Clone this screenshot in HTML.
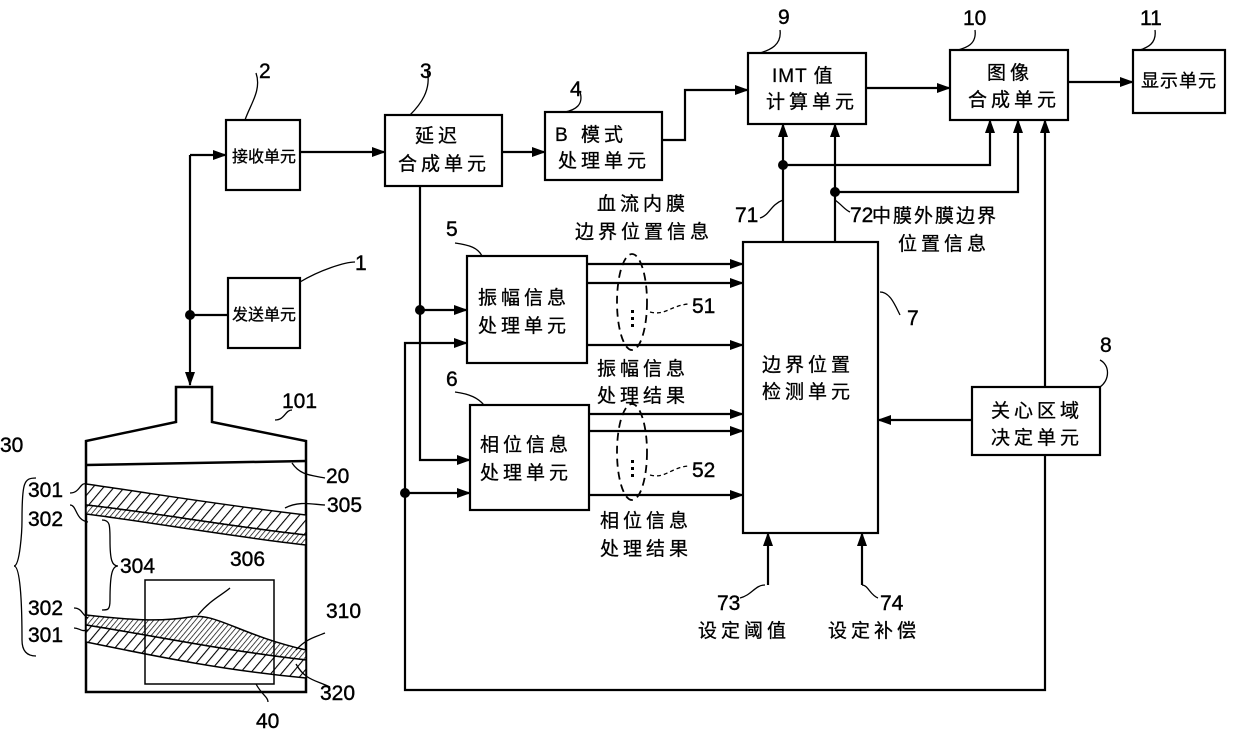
<!DOCTYPE html>
<html><head><meta charset="utf-8"><style>
body{margin:0;background:#fff}
svg{display:block}
text{font-family:"Liberation Sans","Noto Sans CJK SC",sans-serif;fill:#000}
.c text{font-size:19px;letter-spacing:4px;stroke:#000;stroke-width:0.3}
.n text{font-size:21px;stroke:#000;stroke-width:0.4}
</style></head><body>
<svg width="1240" height="734" viewBox="0 0 1240 734" xmlns="http://www.w3.org/2000/svg">
<defs>
<marker id="a" markerWidth="14" markerHeight="10" refX="13" refY="5" orient="auto" markerUnits="userSpaceOnUse"><path d="M0,0 L14,5 L0,10z" fill="#000"/></marker>
<pattern id="h" width="8" height="8" patternUnits="userSpaceOnUse" patternTransform="rotate(40)"><rect width="8" height="8" fill="#fff"/><line x1="0" y1="0" x2="0" y2="8" stroke="#000" stroke-width="2.2"/></pattern>
<pattern id="h2" width="4" height="4" patternUnits="userSpaceOnUse" patternTransform="rotate(40)"><rect width="4" height="4" fill="#fff"/><line x1="0" y1="0" x2="0" y2="4" stroke="#000" stroke-width="1.4"/></pattern>
</defs>
<g fill="none" stroke="#000" stroke-width="2.2">
<rect x="226" y="120" width="74" height="70"/>
<rect x="385" y="115" width="117" height="71"/>
<rect x="545" y="112" width="117" height="68"/>
<rect x="748" y="53" width="118" height="71"/>
<rect x="950" y="50" width="118" height="70"/>
<rect x="1133" y="50" width="92" height="63"/>
<rect x="228" y="278" width="72" height="70"/>
<rect x="467" y="256" width="120" height="107"/>
<rect x="470" y="405" width="119" height="105"/>
<rect x="743" y="242" width="135" height="291"/>
<rect x="972" y="387" width="128" height="68"/>
<path d="M190,155 H226" marker-end="url(#a)"/>
<path d="M190,155 V385" marker-end="url(#a)"/>
<path d="M190,315 H228"/>
<path d="M300,152 H385" marker-end="url(#a)"/>
<path d="M502,152 H545" marker-end="url(#a)"/>
<path d="M662,140 H685 V90 H748" marker-end="url(#a)"/>
<path d="M866,88 H950" marker-end="url(#a)"/>
<path d="M1068,82 H1133" marker-end="url(#a)"/>
<path d="M420,186 V460 H470" marker-end="url(#a)"/>
<path d="M420,310 H467" marker-end="url(#a)"/>
<path d="M1045,455 V690 H405 V343 H467" marker-end="url(#a)"/>
<path d="M405,493 H470" marker-end="url(#a)"/>
<path d="M1045,387 V120" marker-end="url(#a)"/>
<path d="M972,420 H878" marker-end="url(#a)"/>
<path d="M783,242 V124" marker-end="url(#a)"/>
<path d="M783,165 H990 V120" marker-end="url(#a)"/>
<path d="M835,242 V124" marker-end="url(#a)"/>
<path d="M835,192 H1018 V120" marker-end="url(#a)"/>
<path d="M587,264 H743" marker-end="url(#a)"/>
<path d="M587,283 H743" marker-end="url(#a)"/>
<path d="M587,345 H743" marker-end="url(#a)"/>
<path d="M589,414 H743" marker-end="url(#a)"/>
<path d="M589,431 H743" marker-end="url(#a)"/>
<path d="M589,495 H743" marker-end="url(#a)"/>
<path d="M768,585 V533" marker-end="url(#a)"/>
<path d="M862,585 V533" marker-end="url(#a)"/>
</g>
<g fill="#000">
<circle cx="190" cy="315" r="5"/><circle cx="420" cy="310" r="5"/><circle cx="405" cy="493" r="5"/>
<circle cx="783" cy="165" r="5"/><circle cx="835" cy="192" r="5"/>
</g>
<g fill="none" stroke="#000" stroke-width="1.8" stroke-dasharray="8,5">
<ellipse cx="632" cy="302" rx="15" ry="48"/>
<ellipse cx="632" cy="452" rx="15" ry="48"/>
</g>
<g fill="#000">
<rect x="631" y="310" width="3" height="3"/><rect x="631" y="317" width="3" height="3"/><rect x="631" y="324" width="3" height="3"/>
<rect x="631" y="460" width="3" height="3"/><rect x="631" y="467" width="3" height="3"/><rect x="631" y="474" width="3" height="3"/>
</g>
<g fill="none" stroke="#000" stroke-width="1.3">
<path d="M650,312 C665,316 670,306 688,304" stroke-dasharray="4,3"/>
<path d="M650,475 C665,479 670,468 688,466" stroke-dasharray="4,3"/>
<path d="M256,73 C262,90 250,105 245,120"/>
<path d="M427,70 C432,90 420,105 410,115"/>
<path d="M580,92 C584,105 575,110 565,112"/>
<path d="M780,30 C782,45 770,50 760,53"/>
<path d="M975,30 C977,45 965,48 958,50"/>
<path d="M1155,30 C1157,45 1145,48 1140,50"/>
<path d="M355,262 C345,262 320,270 300,282"/>
<path d="M455,243 C470,245 478,248 482,256"/>
<path d="M455,392 C470,394 478,398 484,405"/>
<path d="M880,292 C890,292 895,305 900,315"/>
<path d="M1100,360 C1110,365 1110,380 1100,387"/>
<path d="M760,218 C770,215 770,205 783,200"/>
<path d="M835,200 C842,205 845,210 850,212"/>
<path d="M740,598 C752,595 755,585 765,585"/>
<path d="M878,598 C870,595 868,585 862,585"/>
</g>
<g fill="none" stroke="#000" stroke-width="2.5">
<path d="M176,422 V387 H212 V422 L306,441 V692 H86 V441 Z"/>
<line x1="86" y1="465" x2="306" y2="461"/>
</g>
<path d="M86,484 C150,493 220,505 306,515 V535 C220,525 150,512 86,505 Z" fill="url(#h)" stroke="#000" stroke-width="1.5"/>
<path d="M86,505 C150,512 220,525 306,535 V545 C220,535 150,522 86,514 Z" fill="url(#h2)" stroke="#000" stroke-width="1.5"/>
<path d="M86,615 C130,620 160,622 190,617 C215,612 240,635 306,650 V660 C220,650 150,635 86,625 Z" fill="url(#h2)" stroke="#000" stroke-width="1.5"/>
<path d="M86,625 C150,635 220,650 306,660 V678 C220,670 150,655 86,642 Z" fill="url(#h)" stroke="#000" stroke-width="1.5"/>
<rect x="145" y="580" width="129" height="104" fill="none" stroke="#000" stroke-width="1.5"/>
<g fill="none" stroke="#000" stroke-width="1.3">
<path d="M275,420 C285,420 285,410 292,410"/>
<path d="M292,463 C300,475 310,475 325,478"/>
<path d="M285,508 C300,500 315,505 325,505"/>
<path d="M198,615 C210,600 222,595 230,588"/>
<path d="M296,650 C305,640 312,638 325,633"/>
<path d="M296,664 C305,680 315,680 330,687"/>
<path d="M256,684 C262,695 268,697 268,702"/>
<path d="M70,493 C80,493 80,482 86,484"/>
<path d="M70,505 C77,505 75,520 88,522"/>
<path d="M74,608 C82,608 82,615 88,618"/>
<path d="M74,628 C80,628 80,632 88,630"/>
<path d="M36,478 C24,478 22,482 22,520 C22,530 20,566 14,566 C20,566 22,600 22,640 C22,650 26,656 36,656"/>
<path d="M102,520 C110,520 110,525 110,540 C110,560 112,566 118,566 C112,566 110,575 110,600 C110,610 108,610 102,610"/>
</g>
<g class="c">
<text x="232" y="162" style="letter-spacing:0;font-size:16px">接收单元</text>
<text x="415" y="142">延迟</text><text x="398" y="170">合成单元</text>
<text x="555" y="141">B 模式</text><text x="558" y="167">处理单元</text>
<text x="772" y="82" style="letter-spacing:1px">IMT 值</text><text x="766" y="108">计算单元</text>
<text x="987" y="79">图像</text><text x="968" y="106">合成单元</text>
<text x="1141" y="87" style="letter-spacing:1px;font-size:18px">显示单元</text>
<text x="232" y="320" style="letter-spacing:0;font-size:16px">发送单元</text>
<text x="478" y="304">振幅信息</text><text x="478" y="332">处理单元</text>
<text x="480" y="451">相位信息</text><text x="480" y="479">处理单元</text>
<text x="762" y="371">边界位置</text><text x="762" y="398">检测单元</text>
<text x="991" y="417">关心区域</text><text x="991" y="444">决定单元</text>
<text x="597" y="210">血流内膜</text><text x="575" y="238">边界位置信息</text>
<text x="872" y="222" style="letter-spacing:2px">中膜外膜边界</text><text x="898" y="250">位置信息</text>
<text x="597" y="375">振幅信息</text><text x="597" y="402">处理结果</text>
<text x="600" y="527">相位信息</text><text x="600" y="555">处理结果</text>
<text x="698" y="637">设定阈值</text><text x="828" y="637">设定补偿</text>
</g>
<g class="n">
<text x="259" y="78">2</text><text x="420" y="78">3</text><text x="570" y="96">4</text>
<text x="778" y="24">9</text><text x="963" y="25">10</text><text x="1140" y="25">11</text>
<text x="355" y="270">1</text><text x="446" y="236">5</text><text x="446" y="386">6</text>
<text x="907" y="325">7</text><text x="1100" y="352">8</text>
<text x="735" y="222">71</text><text x="850" y="222">72</text>
<text x="692" y="313">51</text><text x="692" y="477">52</text>
<text x="717" y="610">73</text><text x="880" y="610">74</text>
<text x="282" y="408">101</text><text x="326" y="483">20</text><text x="327" y="512">305</text>
<text x="0" y="452">30</text><text x="28" y="497">301</text><text x="28" y="526">302</text>
<text x="120" y="573">304</text><text x="230" y="566">306</text>
<text x="28" y="615">302</text><text x="28" y="642">301</text>
<text x="326" y="618">310</text><text x="320" y="700">320</text><text x="256" y="728">40</text>
</g>
</svg>
</body></html>
